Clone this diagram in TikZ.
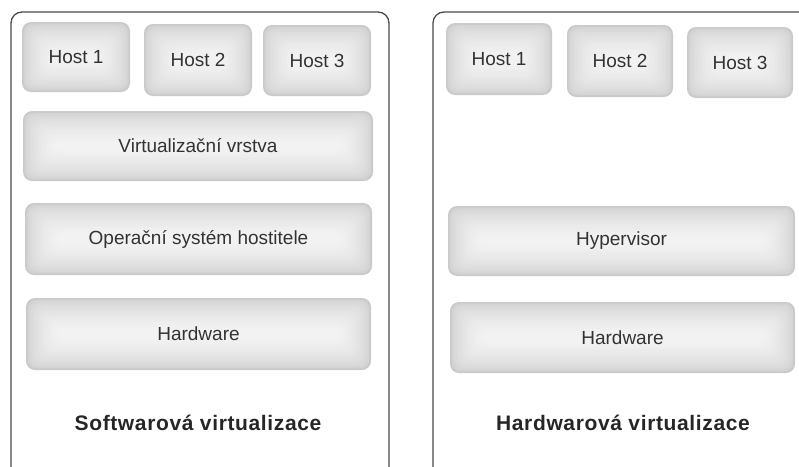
\documentclass[tikz,border=0pt]{standalone}
\usepackage{fontspec}
\setmainfont{Liberation Sans}
\definecolor{framecol}{HTML}{4A4A4A}
\definecolor{txtcol}{HTML}{333333}
\definecolor{boxedge}{HTML}{CACACA}
\definecolor{boxmid}{HTML}{F2F2F2}
\tikzset{
  frame/.style={draw=framecol, line width=1.3pt, rounded corners=11pt},
  lbl/.style={text=txtcol, font=\fontsize{19}{21}\selectfont, inner sep=0pt},
  ttl/.style={text=black!85, font=\bfseries\fontsize{21}{23}\selectfont\addfontfeature{LetterSpace=3}, inner sep=0pt},
}
% glossy box: name, x1, y1, x2, y2, text
\newcommand{\glossbox}[6]{%
  \pgfmathsetmacro{\halfh}{(#5-#3)/2-3}%
  \foreach \i in {0,...,19}{%
    \pgfmathsetmacro{\inset}{min(\i*1.6,\halfh)}%
    \pgfmathsetmacro{\mix}{100*sqrt(\i/19)}%
    \fill[boxmid!\mix!boxedge, rounded corners=9pt]
      ({#2+\inset},{#3+\inset}) rectangle ({#4-\inset},{#5-\inset});
  }%
  \node[lbl] (#1) at ({(#2+#4)/2},{(#3+#5)/2}) {#6};
}
\begin{document}
\begin{tikzpicture}[x=1pt,y=-1pt]
\useasboundingbox (0,0) rectangle (799,466);
\begin{scope}
\clip (0,0) rectangle (799,466);
\draw[frame] (11,12) rectangle (389,478);
\draw[frame] (433,12) rectangle (815,478);
\end{scope}
% left panel
\glossbox{lh1}{22}{22}{130}{92}{Host 1}
\glossbox{lh2}{144}{24}{252}{96}{Host 2}
\glossbox{lh3}{263}{25}{371}{96}{Host 3}
\glossbox{lvirt}{23}{111}{373}{181}{Virtualizační vrstva}
\glossbox{los}{25}{203}{372}{275}{Operační systém hostitele}
\glossbox{lhw}{26}{298}{371}{370}{Hardware}
\node[ttl] (ltitle) at (198,423) {Softwarová virtualizace};
% right panel
\glossbox{rh1}{446}{23}{552}{95}{Host 1}
\glossbox{rh2}{567}{25}{673}{97}{Host 2}
\glossbox{rh3}{687}{27}{793}{98}{Host 3}
\glossbox{rhyp}{448}{206}{795}{276}{Hypervisor}
\glossbox{rhw}{450}{302}{795}{373}{Hardware}
\node[ttl] (rtitle) at (623,423) {Hardwarová virtualizace};
\end{tikzpicture}
\end{document}
